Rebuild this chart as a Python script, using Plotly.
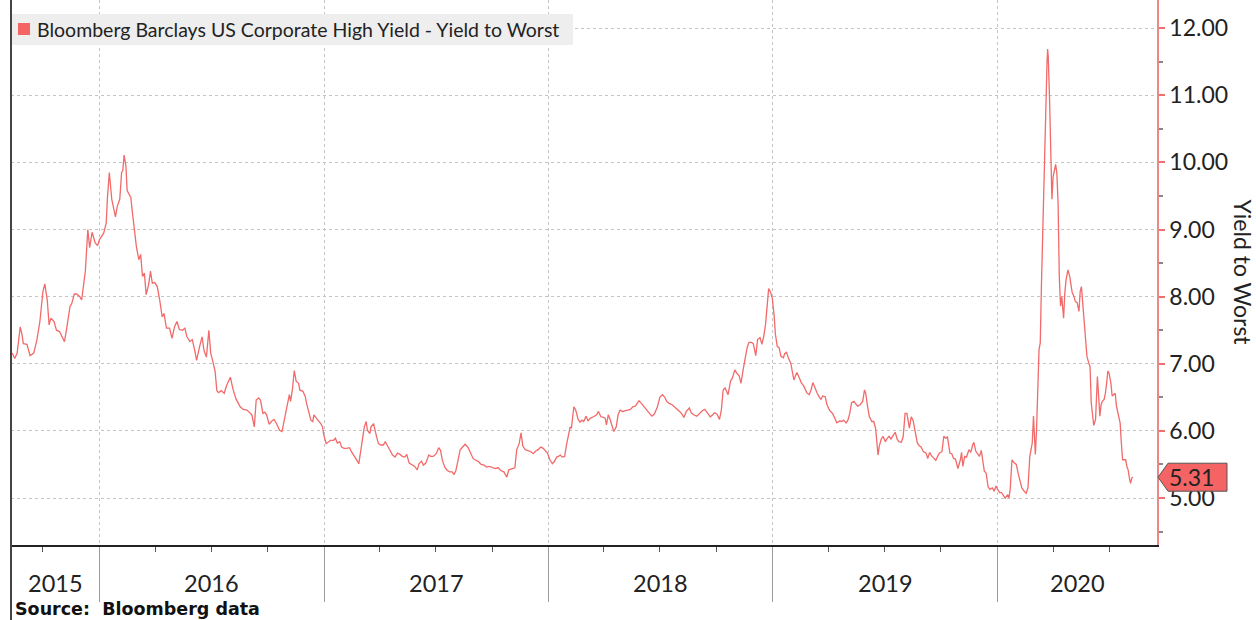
import pandas as pd
import plotly.graph_objects as go

series_name = "Bloomberg Barclays US Corporate High Yield - Yield to Worst"
axis_title = "Yield to Worst"
source_text = "Source:  Bloomberg data"

dates = [
"2015-08-12","2015-08-16","2015-08-20","2015-08-25","2015-08-28","2015-08-30","2015-09-05","2015-09-10","2015-09-16","2015-09-21",
"2015-09-26","2015-10-01","2015-10-04","2015-10-08","2015-10-11","2015-10-14","2015-10-19","2015-10-23","2015-10-28","2015-11-02",
"2015-11-05","2015-11-09","2015-11-14","2015-11-17","2015-11-21","2015-11-25","2015-11-30","2015-12-03","2015-12-06","2015-12-09",
"2015-12-13","2015-12-16","2015-12-20","2015-12-25","2015-12-29","2016-01-01","2016-01-08","2016-01-12","2016-01-14","2016-01-17",
"2016-01-21","2016-01-27","2016-01-30","2016-02-03","2016-02-06","2016-02-08","2016-02-10","2016-02-13","2016-02-15","2016-02-18",
"2016-02-21","2016-02-23","2016-02-27","2016-03-01","2016-03-05","2016-03-08","2016-03-11","2016-03-14","2016-03-17","2016-03-21",
"2016-03-24","2016-03-27","2016-03-31","2016-04-04","2016-04-08","2016-04-12","2016-04-15","2016-04-19","2016-04-24","2016-04-28",
"2016-05-02","2016-05-06","2016-05-10","2016-05-15","2016-05-19","2016-05-22","2016-05-27","2016-05-31","2016-06-04","2016-06-07",
"2016-06-12","2016-06-16","2016-06-19","2016-06-23","2016-06-27","2016-06-30","2016-07-03","2016-07-07","2016-07-10","2016-07-13",
"2016-07-17","2016-07-22","2016-07-26","2016-08-01","2016-08-05","2016-08-10","2016-08-17","2016-08-22","2016-08-28","2016-09-01",
"2016-09-05","2016-09-09","2016-09-12","2016-09-16","2016-09-19","2016-09-23","2016-09-26","2016-09-29","2016-10-03","2016-10-08",
"2016-10-11","2016-10-15","2016-10-20","2016-10-24","2016-10-28","2016-11-02","2016-11-05","2016-11-07","2016-11-10","2016-11-13",
"2016-11-16","2016-11-20","2016-11-22","2016-11-27","2016-12-01","2016-12-03","2016-12-07","2016-12-10","2016-12-13","2016-12-15",
"2016-12-18","2016-12-22","2016-12-26","2016-12-29","2016-12-31","2017-01-04","2017-01-08","2017-01-11","2017-01-16","2017-01-19",
"2017-01-22","2017-01-26","2017-01-29","2017-02-02","2017-02-06","2017-02-11","2017-02-14","2017-02-18","2017-02-23","2017-02-26",
"2017-03-01","2017-03-04","2017-03-07","2017-03-10","2017-03-12","2017-03-16","2017-03-18","2017-03-22","2017-03-24","2017-03-27",
"2017-03-30","2017-04-03","2017-04-07","2017-04-10","2017-04-13","2017-04-18","2017-04-22","2017-04-26","2017-04-30","2017-05-04",
"2017-05-08","2017-05-12","2017-05-15","2017-05-19","2017-05-24","2017-05-28","2017-06-01","2017-06-04","2017-06-08","2017-06-11",
"2017-06-15","2017-06-20","2017-06-23","2017-06-27","2017-07-02","2017-07-06","2017-07-09","2017-07-12","2017-07-16","2017-07-20",
"2017-07-24","2017-07-28","2017-07-31","2017-08-03","2017-08-06","2017-08-10","2017-08-14","2017-08-18","2017-08-23","2017-08-27",
"2017-08-31","2017-09-05","2017-09-09","2017-09-13","2017-09-18","2017-09-22","2017-09-26","2017-09-30","2017-10-06","2017-10-11",
"2017-10-15","2017-10-20","2017-10-23","2017-10-25","2017-10-28","2017-11-02","2017-11-07","2017-11-10","2017-11-14","2017-11-17",
"2017-11-20","2017-11-24","2017-11-29","2017-12-03","2017-12-07","2017-12-11","2017-12-15","2017-12-19","2017-12-23","2017-12-27",
"2017-12-30","2018-01-03","2018-01-07","2018-01-10","2018-01-14","2018-01-17","2018-01-20","2018-01-23","2018-01-27","2018-01-30",
"2018-02-02","2018-02-05","2018-02-07","2018-02-09","2018-02-11","2018-02-14","2018-02-18","2018-02-21","2018-02-24","2018-02-27",
"2018-03-03","2018-03-06","2018-03-10","2018-03-15","2018-03-20","2018-03-23","2018-03-27","2018-03-31","2018-04-03","2018-04-05",
"2018-04-08","2018-04-11","2018-04-14","2018-04-17","2018-04-21","2018-04-24","2018-04-27","2018-05-01","2018-05-05","2018-05-10",
"2018-05-14","2018-05-18","2018-05-22","2018-05-25","2018-05-28","2018-06-01","2018-06-05","2018-06-09","2018-06-14","2018-06-18",
"2018-06-22","2018-06-27","2018-07-01","2018-07-05","2018-07-09","2018-07-12","2018-07-16","2018-07-21","2018-07-25","2018-07-29",
"2018-08-02","2018-08-06","2018-08-09","2018-08-13","2018-08-18","2018-08-21","2018-08-25","2018-08-30","2018-09-03","2018-09-08",
"2018-09-12","2018-09-16","2018-09-21","2018-09-25","2018-09-28","2018-10-02","2018-10-06","2018-10-09","2018-10-12","2018-10-15",
"2018-10-20","2018-10-24","2018-10-27","2018-10-31","2018-11-03","2018-11-07","2018-11-10","2018-11-14","2018-11-17","2018-11-20",
"2018-11-23","2018-11-27","2018-11-30","2018-12-04","2018-12-07","2018-12-11","2018-12-14","2018-12-17","2018-12-20","2018-12-23",
"2018-12-25","2018-12-28","2018-12-31","2019-01-03","2019-01-05","2019-01-08","2019-01-11","2019-01-14","2019-01-18","2019-01-20",
"2019-01-23","2019-01-26","2019-01-30","2019-02-02","2019-02-04","2019-02-07","2019-02-09","2019-02-13","2019-02-16","2019-02-20",
"2019-02-25","2019-03-01","2019-03-04","2019-03-07","2019-03-10","2019-03-14","2019-03-17","2019-03-20","2019-03-23","2019-03-27",
"2019-03-30","2019-04-03","2019-04-08","2019-04-12","2019-04-15","2019-04-20","2019-04-23","2019-04-26","2019-04-30","2019-05-03",
"2019-05-06","2019-05-09","2019-05-13","2019-05-16","2019-05-19","2019-05-23","2019-05-27","2019-05-30","2019-06-01","2019-06-04",
"2019-06-07","2019-06-11","2019-06-14","2019-06-17","2019-06-21","2019-06-23","2019-06-26","2019-06-29","2019-07-03","2019-07-06",
"2019-07-09","2019-07-12","2019-07-16","2019-07-19","2019-07-22","2019-07-25","2019-07-29","2019-08-01","2019-08-04","2019-08-07",
"2019-08-11","2019-08-14","2019-08-17","2019-08-20","2019-08-24","2019-08-27","2019-08-30","2019-09-03","2019-09-07","2019-09-10",
"2019-09-13","2019-09-16","2019-09-20","2019-09-23","2019-09-26","2019-09-29","2019-10-03","2019-10-06","2019-10-09","2019-10-12",
"2019-10-16","2019-10-19","2019-10-22","2019-10-25","2019-10-29","2019-11-02","2019-11-04","2019-11-06","2019-11-09","2019-11-12",
"2019-11-16","2019-11-19","2019-11-22","2019-11-24","2019-11-27","2019-11-30","2019-12-03","2019-12-06","2019-12-08","2019-12-11",
"2019-12-14","2019-12-17","2019-12-20","2019-12-24","2019-12-27","2019-12-30","2020-01-02","2020-01-05","2020-01-08","2020-01-11",
"2020-01-14","2020-01-18","2020-01-20","2020-01-22","2020-01-25","2020-01-29","2020-02-01","2020-02-04","2020-02-07","2020-02-10",
"2020-02-14","2020-02-17","2020-02-20","2020-02-23","2020-02-27","2020-02-29","2020-03-03","2020-03-05","2020-03-09","2020-03-11",
"2020-03-13","2020-03-15","2020-03-17","2020-03-19","2020-03-22","2020-03-23","2020-03-24","2020-03-26","2020-03-28","2020-03-30",
"2020-04-01","2020-04-05","2020-04-07","2020-04-09","2020-04-11","2020-04-13","2020-04-15","2020-04-18","2020-04-20","2020-04-22",
"2020-04-25","2020-04-28","2020-05-02","2020-05-05","2020-05-07","2020-05-10","2020-05-13","2020-05-15","2020-05-17","2020-05-19",
"2020-05-21","2020-05-23","2020-05-26","2020-05-29","2020-05-31","2020-06-02","2020-06-04","2020-06-06","2020-06-09","2020-06-12",
"2020-06-14","2020-06-16","2020-06-18","2020-06-20","2020-06-23","2020-06-25","2020-06-27","2020-06-29","2020-07-01","2020-07-04",
"2020-07-06","2020-07-09","2020-07-11","2020-07-13","2020-07-17","2020-07-19","2020-07-21","2020-07-23","2020-07-25","2020-07-28",
"2020-07-30","2020-08-01","2020-08-03","2020-08-05","2020-08-07","2020-08-09",
]

yields = [
7.16,7.08,7.16,7.55,7.43,7.30,7.29,7.12,7.16,7.35,
7.63,8.08,8.19,7.95,7.58,7.68,7.63,7.50,7.48,7.37,
7.33,7.55,7.85,7.90,8.04,8.04,8.00,7.95,8.20,8.38,
9.00,8.73,8.96,8.80,8.76,8.85,8.95,9.10,9.48,9.85,
9.45,9.19,9.35,9.45,9.85,9.88,10.11,9.95,9.58,9.53,
9.48,9.30,8.95,8.75,8.55,8.63,8.30,8.35,8.03,8.18,
8.38,8.20,8.21,8.15,7.95,7.70,7.75,7.53,7.53,7.38,
7.55,7.63,7.51,7.50,7.53,7.41,7.33,7.36,7.20,7.05,
7.26,7.40,7.20,7.10,7.50,7.16,7.05,6.90,6.60,6.57,
6.60,6.56,6.68,6.80,6.63,6.48,6.36,6.32,6.31,6.28,
6.24,6.06,6.46,6.49,6.46,6.26,6.28,6.24,6.10,6.15,
6.17,6.11,6.01,5.99,6.16,6.42,6.54,6.44,6.62,6.90,
6.74,6.71,6.61,6.59,6.51,6.41,6.26,6.16,6.14,6.24,
6.20,6.16,6.11,6.06,5.94,5.81,5.84,5.86,5.86,5.89,
5.82,5.84,5.76,5.74,5.74,5.75,5.69,5.64,5.56,5.51,
5.71,5.92,6.06,6.14,6.01,5.96,6.06,6.11,6.02,5.91,
5.81,5.79,5.79,5.84,5.79,5.71,5.64,5.61,5.67,5.65,
5.62,5.61,5.65,5.52,5.49,5.47,5.42,5.51,5.55,5.49,
5.52,5.64,5.62,5.62,5.66,5.75,5.71,5.56,5.46,5.41,
5.39,5.39,5.35,5.41,5.54,5.72,5.76,5.80,5.75,5.67,
5.59,5.56,5.54,5.50,5.49,5.46,5.47,5.46,5.44,5.45,
5.41,5.39,5.35,5.31,5.42,5.44,5.45,5.72,5.81,5.97,
5.77,5.72,5.70,5.69,5.66,5.70,5.72,5.76,5.74,5.70,
5.67,5.57,5.51,5.54,5.61,5.62,5.64,5.61,5.62,5.79,
5.96,6.06,6.04,6.26,6.36,6.31,6.17,6.13,6.16,6.14,
6.22,6.15,6.19,6.21,6.24,6.29,6.21,6.20,6.19,6.09,
6.24,6.17,6.06,5.99,6.06,6.24,6.31,6.29,6.30,6.31,
6.32,6.36,6.37,6.41,6.45,6.41,6.36,6.31,6.26,6.22,
6.25,6.36,6.50,6.54,6.50,6.44,6.41,6.39,6.36,6.32,
6.29,6.25,6.20,6.29,6.34,6.27,6.24,6.22,6.26,6.30,
6.32,6.27,6.21,6.24,6.27,6.25,6.17,6.31,6.61,6.64,
6.54,6.74,6.79,6.91,6.86,6.82,6.71,6.94,7.12,7.24,
7.32,7.32,7.30,7.12,7.36,7.39,7.29,7.41,7.59,7.86,
8.12,8.07,7.97,7.71,7.44,7.26,7.24,7.11,7.09,7.15,
7.17,7.09,7.01,6.86,6.76,6.83,6.87,6.79,6.72,6.67,
6.57,6.54,6.61,6.72,6.64,6.56,6.51,6.47,6.52,6.51,
6.39,6.31,6.26,6.19,6.12,6.15,6.14,6.16,6.12,6.16,
6.26,6.42,6.44,6.40,6.37,6.39,6.44,6.61,6.56,6.36,
6.21,6.14,6.14,6.04,5.64,5.77,5.87,5.92,5.84,5.89,
5.92,5.88,5.93,5.98,5.88,5.84,5.83,5.92,6.26,6.26,
6.04,6.21,6.16,6.01,5.82,5.78,5.76,5.69,5.67,5.59,
5.68,5.63,5.59,5.56,5.62,5.67,5.69,5.92,5.89,5.91,
5.67,5.66,5.59,5.58,5.44,5.57,5.68,5.47,5.62,5.61,
5.72,5.68,5.79,5.83,5.70,5.65,5.62,5.71,5.55,5.40,
5.37,5.17,5.13,5.15,5.10,5.18,5.12,5.08,5.08,5.03,
5.00,5.05,5.00,5.12,5.57,5.52,5.50,5.37,5.25,5.15,
5.10,5.07,5.15,5.62,5.82,6.22,5.65,6.02,7.21,7.31,
8.20,9.00,9.69,10.64,11.48,11.69,11.58,10.99,10.19,9.45,
9.79,9.97,9.84,9.40,8.30,7.86,8.00,7.68,8.06,8.25,
8.40,8.30,8.06,8.00,7.93,7.91,7.78,8.08,8.15,7.91,
7.61,7.46,7.11,7.01,6.96,6.42,6.27,6.08,6.17,6.81,
6.52,6.22,6.39,6.44,6.47,6.56,6.71,6.89,6.86,6.71,
6.52,6.54,6.56,6.37,6.19,6.12,5.82,5.57,5.57,5.57,
5.47,5.42,5.30,5.22,5.30,5.31,
]

x_range = ["2015-08-10", "2020-09-17"]
y_range = [4.30, 12.42]
y_ticks = [5, 6, 7, 8, 9, 10, 11, 12]
year_starts = ["2016-01-01", "2017-01-01", "2018-01-01", "2019-01-01", "2020-01-01"]
year_labels = ["2015", "2016", "2017", "2018", "2019", "2020"]

LINE = "#f26a6a"
FONT = "Lato"

fig = go.Figure()
fig.add_trace(go.Scatter(
    x=pd.to_datetime(dates), y=yields, mode="lines",
    line=dict(color=LINE, width=1.3), name=series_name, showlegend=False,
))

# year labels centered in the visible part of each year
lo, hi = pd.Timestamp(x_range[0]), pd.Timestamp(x_range[1])
annotations = []
for lab in year_labels:
    a = max(pd.Timestamp(f"{lab}-01-01"), lo)
    b = min(pd.Timestamp(f"{int(lab)+1}-01-01"), hi)
    mid = a + (b - a) / 2
    annotations.append(dict(x=mid, xref="x", y=0, yref="paper", yshift=-38,
                            text=lab, showarrow=False, yanchor="middle",
                            font=dict(family=FONT, size=23.5, color="#222")))

# legend text (box and swatch drawn as shapes)
annotations.append(dict(
    x=0, xref="paper", xanchor="left", xshift=25, y=1, yref="paper", yanchor="middle", yshift=-29,
    text=series_name, showarrow=False, borderpad=0,
    font=dict(family=FONT, size=19.5, color="#222")))

# right axis title
annotations.append(dict(
    x=1, xref="paper", xanchor="center", xshift=86, y=0.5, yref="paper", yshift=0,
    text=axis_title, textangle=90, showarrow=False,
    font=dict(family=FONT, size=23, color="#222")))

# source
annotations.append(dict(
    x=0, xref="paper", xanchor="left", xshift=2, y=0, yref="paper", yanchor="middle", yshift=-64,
    text=f"<b>{source_text}</b>", showarrow=False,
    font=dict(family="DejaVu Sans", size=17.5, color="#111")))

# last value label
last = yields[-1]
annotations.append(dict(
    x=1, xref="paper", xanchor="left", xshift=10, y=last, yref="y", yanchor="middle",
    text=f"{last:.2f}", showarrow=False,
    font=dict(family=FONT, size=23, color="#222")))

shapes = [
    dict(type="rect", xref="paper", yref="paper", xsizemode="pixel", ysizemode="pixel",
         xanchor=0, yanchor=1, x0=1, x1=562, y0=-14, y1=-45,
         fillcolor="#eeeeee", line=dict(width=0), layer="above"),
    dict(type="rect", xref="paper", yref="paper", xsizemode="pixel", ysizemode="pixel",
         xanchor=0, yanchor=1, x0=7, x1=19, y0=-23, y1=-35,
         fillcolor="#f46464", line=dict(width=0), layer="above"),
    dict(type="path", xref="paper", yref="y", xsizemode="pixel", ysizemode="pixel",
         xanchor=1, yanchor=last,
         path="M1,0 L11,-14 L70,-14 L70,14 L11,14 Z",
         fillcolor="#f46464", line=dict(color="#555", width=1), layer="above"),
    dict(type="line", xref="paper", yref="paper", x0=0, x1=0, y0=1, y1=-0.14,
         line=dict(color="#444", width=2)),
]

fig.update_layout(
    width=1256, height=620,
    margin=dict(l=11, r=99, t=0, b=75),
    paper_bgcolor="white", plot_bgcolor="white",
    annotations=annotations, shapes=shapes,
    xaxis=dict(
        type="date", range=x_range,
        tickmode="array", tickvals=year_starts, showticklabels=False,
        ticks="outside", ticklen=55, tickcolor="#9a9a9a", tickwidth=1,
        showgrid=True, gridcolor="#c4c4c4", griddash="dot", gridwidth=1,
        showline=True, linecolor="#222", linewidth=1.5,
        minor=dict(tickmode="linear", tick0="2016-01-01", dtick="M3",
                   ticks="outside", ticklen=5, tickcolor="#555", showgrid=False),
        zeroline=False,
    ),
    yaxis=dict(
        side="right", range=y_range,
        tickmode="array", tickvals=y_ticks, tickformat=".2f",
        ticks="outside", ticklen=6, tickcolor="#f07070", tickwidth=2,
        tickfont=dict(family=FONT, size=23, color="#222"),
        showgrid=True, gridcolor="#c4c4c4", griddash="dot", gridwidth=1,
        showline=True, linecolor="#f08585", linewidth=1.5,
        minor=dict(tickmode="linear", tick0=4.5, dtick=0.5, ticks="outside",
                   ticklen=4, tickcolor="#888", showgrid=False),
        zeroline=False,
    ),
)

fig.write_html("out.html", config={"displayModeBar": False},
               post_script="document.body.style.margin='0';")
